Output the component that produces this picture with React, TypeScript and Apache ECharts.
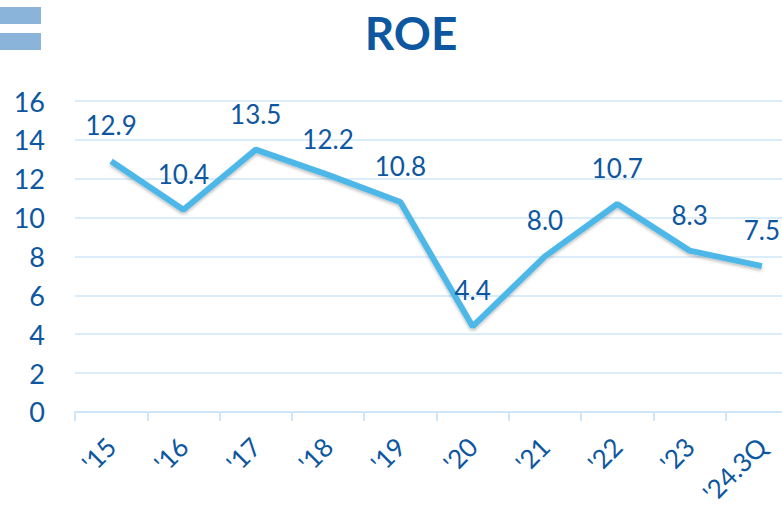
import React, { useEffect, useRef } from "react";
import * as echarts from "echarts";

const categories = ["'15", "'16", "'17", "'18", "'19", "'20", "'21", "'22", "'23", "'24.3Q"];
const roeValues = [12.9, 10.4, 13.5, 12.2, 10.8, 4.4, 8.0, 10.7, 8.3, 7.5];
const chartTitle = "ROE";

const TEXT = "#0d57a0";
const LINE = "#4db8e8";
const GRID = "#cfe6f8";
const FONT = "Lato, 'Open Sans', sans-serif";

export default function App() {
  const ref = useRef<HTMLDivElement>(null);
  useEffect(() => {
    if (!ref.current) return;
    const chart = echarts.init(ref.current, undefined, { renderer: "svg" });
    chart.setOption({
      animation: false,
      backgroundColor: "#ffffff",
      textStyle: { fontFamily: FONT },
      graphic: [
        { type: "rect", shape: { x: 0, y: 7, width: 41, height: 17 }, style: { fill: "#8ab4d9" } },
        { type: "rect", shape: { x: 0, y: 33, width: 41, height: 17 }, style: { fill: "#8ab4d9" } },
        {
          type: "text",
          x: 411,
          y: 32,
          style: {
            text: chartTitle,
            fill: TEXT,
            font: `bold 46px ${FONT}`,
            textAlign: "center",
            textVerticalAlign: "middle",
          },
        },
      ],
      grid: { left: 75, top: 101, width: 723, height: 311, containLabel: false },
      xAxis: {
        type: "category",
        data: categories,
        boundaryGap: true,
        axisLine: { show: true, lineStyle: { color: GRID, width: 2 } },
        axisTick: { show: true, length: 9, lineStyle: { color: GRID, width: 2 } },
        axisLabel: { rotate: 45, margin: 30, color: TEXT, fontSize: 26, fontFamily: FONT },
        splitLine: { show: false },
      },
      yAxis: {
        type: "value",
        min: 0,
        max: 16,
        interval: 2,
        axisLine: { show: false },
        axisTick: { show: false },
        axisLabel: { margin: 30, color: TEXT, fontSize: 27, fontFamily: FONT },
        splitLine: { show: true, lineStyle: { color: GRID, width: 1.5 } },
      },
      series: [
        {
          type: "line",
          data: roeValues,
          symbol: "none",
          lineStyle: {
            color: LINE,
            width: 6,
            shadowColor: "rgba(0,0,0,0.25)",
            shadowBlur: 3,
            shadowOffsetY: 2,
          },
          z: 2,
        },
        {
          type: "scatter",
          data: roeValues,
          symbol: "circle",
          symbolSize: 2,
          itemStyle: { color: "rgba(0,0,0,0)", opacity: 1 },
          label: {
            show: true,
            position: "top",
            distance: 22,
            color: TEXT,
            opacity: 1,
            fontSize: 26,
            fontFamily: FONT,
            formatter: (p: any) => Number(p.value).toFixed(1),
          },
          labelLayout: { hideOverlap: false },
          z: 3,
        },
      ],
    });
    return () => chart.dispose();
  }, []);
  return (
    <div style={{ width: 782, height: 508, position: "absolute", left: 0, top: 0, overflow: "hidden" }}>
      <div ref={ref} style={{ width: 800, height: 508 }} />
    </div>
  );
}
